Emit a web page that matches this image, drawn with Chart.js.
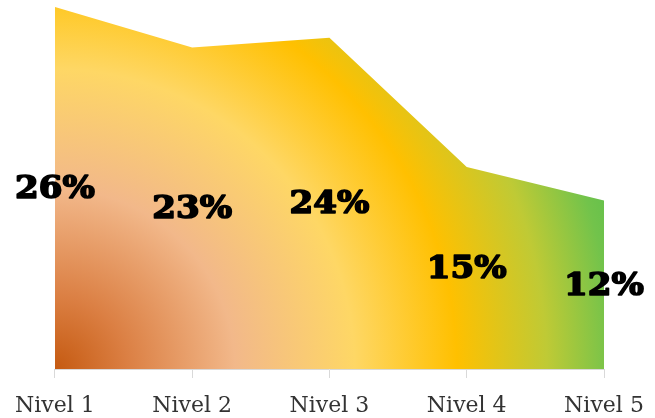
<!DOCTYPE html>
<html>
<head>
<meta charset="utf-8">
<script src="https://cdn.jsdelivr.net/npm/chart.js@4/dist/chart.umd.min.js"></script>
<style>
  html, body { margin: 0; padding: 0; background: #fff; }
  #wrap { width: 655px; height: 418px; }
</style>
</head>
<body>
<div id="wrap"><canvas id="chart"></canvas></div>
<script>
// data
const niveles = ['Nivel 1', 'Nivel 2', 'Nivel 3', 'Nivel 4', 'Nivel 5'];
const porcentajes = [26, 23.1, 23.8, 14.5, 12.1];
const yMax = 26;

// radial fill from the bottom-left corner, orange -> yellow -> green
const areaFill = (context) => {
    const area = context.chart.chartArea;
    if (!area) return '#ffc000';
    const ctx = context.chart.ctx;
    const r = 600;
    const g = ctx.createRadialGradient(area.left, area.bottom, 0, area.left, area.bottom, r);
    g.addColorStop(0, '#c55a11');
    g.addColorStop(0.12, '#db7f43');
    g.addColorStop(0.3, '#f2b88a');
    g.addColorStop(0.5, '#fed765');
    g.addColorStop(0.67, '#ffc000');
    g.addColorStop(0.82, '#bfca35');
    g.addColorStop(0.93, '#72c34b');
    g.addColorStop(1, '#58be4c');
    return g;
};

// percent labels drawn in the middle of the area under each point
const centerLabels = {
    id: 'centerLabels',
    afterDatasetsDraw(chart) {
        const ctx = chart.ctx;
        const x = chart.scales.x;
        const y = chart.scales.y;
        ctx.save();
        ctx.fillStyle = '#000';
        ctx.strokeStyle = '#000';
        ctx.lineWidth = 1.6;
        ctx.lineJoin = 'round';
        ctx.font = 'bold 31px "DejaVu Serif"';
        ctx.textAlign = 'center';
        ctx.textBaseline = 'middle';
        porcentajes.forEach((v, i) => {
            const px = x.getPixelForValue(i);
            const py = y.getPixelForValue(v / 2) + 2;
            const txt = Math.round(v) + '%';
            ctx.save();
            ctx.translate(px, py);
            ctx.scale(1.1, 1);
            ctx.fillText(txt, 0, 0);
            ctx.strokeText(txt, 0, 0);
            ctx.restore();
        });
        ctx.restore();
    }
};

new Chart(document.getElementById('chart'), {
    type: 'line',
    data: {
        labels: niveles,
        datasets: [{
            data: porcentajes,
            fill: 'origin',
            backgroundColor: areaFill,
            borderWidth: 0,
            pointRadius: 0,
            tension: 0
        }]
    },
    options: {
        responsive: true,
        maintainAspectRatio: false,
        animation: false,
        layout: {
            padding: { left: 18, right: 7, top: 7, bottom: 0 }
        },
        scales: {
            x: {
                offset: false,
                afterFit: (scale) => {
                    scale.height = 49;
                    scale.paddingRight = 51;
                },
                grid: {
                    drawOnChartArea: false,
                    drawTicks: true,
                    tickLength: 9,
                    color: '#d9d9d9'
                },
                border: { display: true, color: '#d9d9d9', width: 1 },
                ticks: {
                    color: '#333333',
                    font: { family: '"DejaVu Serif"', size: 22 },
                    padding: 15,
                    maxRotation: 0,
                    autoSkip: false
                }
            },
            y: {
                display: false,
                min: 0,
                max: yMax
            }
        },
        plugins: {
            legend: { display: false },
            tooltip: { enabled: false },
            title: { display: false }
        }
    },
    plugins: [centerLabels]
});
</script>
</body>
</html>
